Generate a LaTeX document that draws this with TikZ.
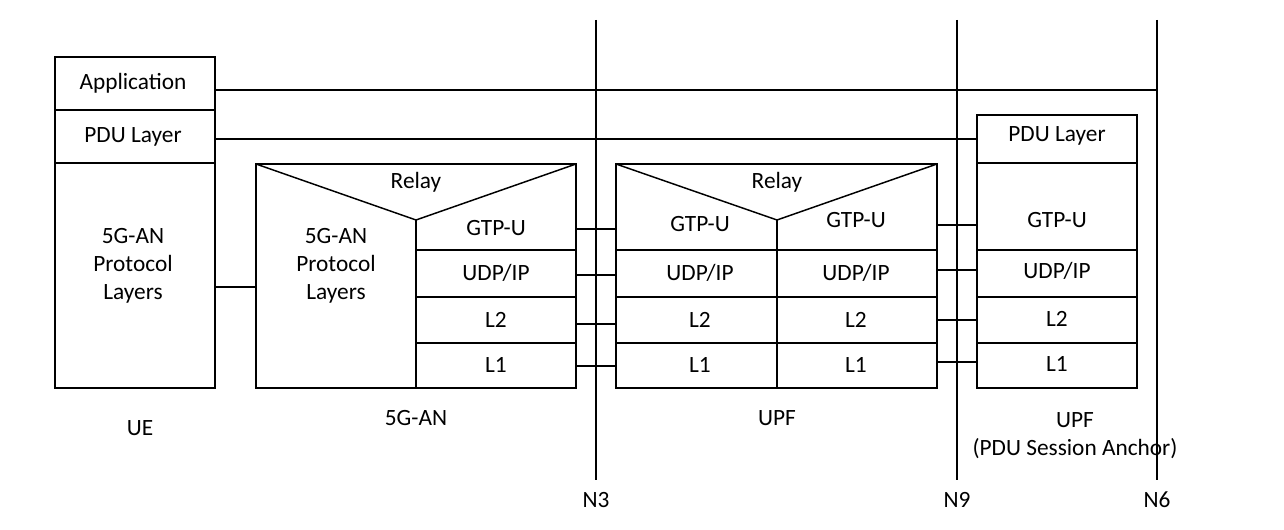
\documentclass[tikz,border=0pt]{standalone}
\usepackage{fontspec}
\setmainfont{Carlito}
\begin{document}
\begin{tikzpicture}[x=0.75pt,y=-0.75pt,line width=1.1pt,
  lbl/.style={font=\fontsize{17.5}{21}\selectfont,align=center,inner sep=0pt},
  box/.style={draw,line width=1.1pt}]
\useasboundingbox (0,0) rectangle (1284,530);
% reference lines
\draw (596,20) coordinate (n3t) -- (596,480) coordinate (n3b);
\draw (957,20) coordinate (n9t) -- (957,480) coordinate (n9b);
\draw (1157,20) coordinate (n6t) -- (1157,480) coordinate (n6b);
\node[lbl] (N3) at (596,500) {N3};
\node[lbl] (N9) at (957,500) {N9};
\node[lbl] (N6) at (1157,500) {N6};
% UE
\draw[box] (55,57) rectangle (215,388);
\draw (55,110) -- (215,110);
\draw (55,163) -- (215,163);
\node[lbl] (app) at (133,83) {Application};
\node[lbl] (uepdu) at (133,137) {PDU Layer};
\node[lbl] (uean) at (133,266) {5G-AN\\Protocol\\Layers};
\node[lbl] (UE) at (140,428) {UE};
% 5G-AN
\draw[box] (256,164) rectangle (576,388);
\draw (256,164) -- (416,220) -- (576,164);
\draw (416,220) -- (416,388);
\foreach \y in {250,297,343} \draw (416,\y) -- (576,\y);
\node[lbl] (r1) at (416,182) {Relay};
\node[lbl] (ananp) at (336,266) {5G-AN\\Protocol\\Layers};
\node[lbl] at (496,228) {GTP-U};
\node[lbl] at (496,273) {UDP/IP};
\node[lbl] at (496,320) {L2};
\node[lbl] at (496,365) {L1};
\node[lbl] (AN) at (416,418) {5G-AN};
% UPF
\draw[box] (616,164) rectangle (937,388);
\draw (616,164) -- (777,220) -- (937,164);
\draw (777,220) -- (777,388);
\foreach \y in {250,297,343} \draw (616,\y) -- (937,\y);
\node[lbl] (r2) at (777,182) {Relay};
\node[lbl] at (700,224) {GTP-U};
\node[lbl] at (856,220) {GTP-U};
\node[lbl] at (700,273) {UDP/IP};
\node[lbl] at (856,273) {UDP/IP};
\node[lbl] at (700,320) {L2};
\node[lbl] at (856,320) {L2};
\node[lbl] at (700,365) {L1};
\node[lbl] at (856,365) {L1};
\node[lbl] (UPF) at (777,418) {UPF};
% Anchor
\draw[box] (977,115) rectangle (1137,388);
\draw[line width=2.2pt] (977,115) -- (1137,115);
\foreach \y in {163,250,297,343} \draw (977,\y) -- (1137,\y);
\node[lbl] at (1057,136) {PDU Layer};
\node[lbl] at (1057,220) {GTP-U};
\node[lbl] at (1057,271) {UDP/IP};
\node[lbl] at (1057,319) {L2};
\node[lbl] at (1057,364) {L1};
\node[lbl] (UPF2) at (1075,436) {UPF\\(PDU Session Anchor)};
% connectors
\draw (215,90) -- (1157,90);
\draw (215,139) -- (977,139);
\draw (215,287) -- (256,287);
\foreach \y in {229,275,324,366} \draw (576,\y) -- (616,\y);
\foreach \y in {225,270,320,362} \draw (937,\y) -- (977,\y);
\end{tikzpicture}
\end{document}
